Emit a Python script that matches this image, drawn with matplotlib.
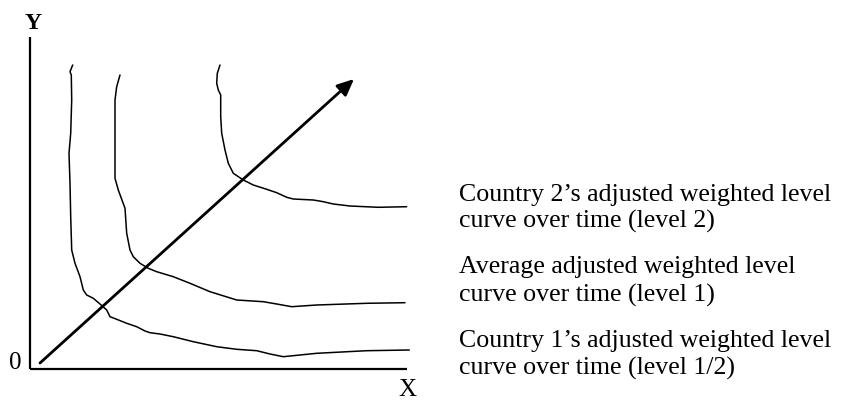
import matplotlib
matplotlib.use("Agg")
import matplotlib.pyplot as plt
import numpy as np

# Hand-traced level curves (diagram coordinates, y downward)
curve_half_x = [72.7, 70.0, 71.3, 71.7, 70.7, 69.0, 70.0, 70.7, 71.7, 75.0, 80.0, 83.3, 86.7, 93.3, 100.0, 106.7, 110.0, 116.7, 126.7, 136.7, 145.0, 150.0, 160.0, 173.3, 193.3, 216.7, 236.7, 256.7, 270.0, 283.3, 316.7, 366.7, 409.3]
curve_half_y = [65.0, 71.7, 75.0, 100.0, 133.3, 153.3, 183.3, 216.7, 250.0, 263.3, 276.7, 290.0, 295.0, 298.3, 304.0, 310.0, 316.7, 319.3, 323.3, 326.7, 331.0, 332.7, 334.0, 336.7, 341.7, 346.7, 349.3, 350.7, 354.0, 356.7, 353.3, 350.7, 350.0]

curve_one_x = [120.0, 116.7, 115.0, 115.0, 115.0, 118.3, 125.0, 126.7, 130.0, 133.3, 140.0, 148.3, 156.7, 173.3, 190.0, 210.0, 236.7, 263.3, 276.7, 291.7, 316.7, 366.7, 405.0]
curve_one_y = [75.0, 86.7, 100.0, 133.3, 178.3, 190.0, 208.3, 233.3, 250.0, 256.7, 263.3, 268.3, 271.7, 276.7, 283.3, 291.7, 300.0, 301.7, 304.0, 306.7, 305.0, 303.3, 302.7]

curve_two_x = [220.0, 217.3, 216.7, 218.3, 220.7, 220.7, 221.7, 225.0, 228.3, 233.3, 243.3, 253.3, 266.7, 276.7, 286.7, 293.3, 313.3, 323.3, 333.3, 350.0, 378.3, 406.7]
curve_two_y = [65.0, 73.3, 83.3, 90.0, 95.0, 116.7, 133.3, 150.0, 163.3, 173.3, 180.0, 185.0, 189.3, 192.7, 197.3, 199.0, 200.0, 201.7, 204.0, 206.0, 207.3, 206.7]

arrow_start = (40.0, 363.0)
arrow_end = (354.0, 79.0)

label_lines = [
    "Country 2\u2019s adjusted weighted level",
    "curve over time (level 2)",
    "Average adjusted weighted level",
    "curve over time (level 1)",
    "Country 1\u2019s adjusted weighted level",
    "curve over time (level 1/2)",
]
label_baselines = [201, 228, 273, 302, 347, 375]

fig = plt.figure(figsize=(8.44, 4.0), dpi=100)
ax = fig.add_axes([0, 0, 1, 1])
ax.set_xlim(0, 844)
ax.set_ylim(400, 0)
ax.axis("off")

serif = ["Liberation Serif", "DejaVu Serif"]

# axes
ax.plot([29.5, 29.5], [37, 369], color="black", lw=1.6, solid_capstyle="butt")
ax.plot([29.5, 407], [369, 369], color="black", lw=1.6, solid_capstyle="butt")
ax.text(33, 29, "Y", fontsize=17, fontweight="bold", family=serif, ha="center", va="baseline")
ax.text(15, 369, "0", fontsize=18, family=serif, ha="center", va="baseline")
ax.text(407, 395.5, "X", fontsize=18, family=serif, ha="center", va="baseline")

for cx, cy in [(curve_half_x, curve_half_y), (curve_one_x, curve_one_y), (curve_two_x, curve_two_y)]:
    ax.plot(cx, cy, color="black", lw=1.1, solid_joinstyle="round", solid_capstyle="round")

ax.annotate("", xy=arrow_end, xytext=arrow_start,
            arrowprops=dict(arrowstyle="-|>,head_length=1.0,head_width=0.45", color="black", lw=2.0, shrinkA=0, shrinkB=0))

for lab, y in zip(label_lines, label_baselines):
    ax.text(459, y, lab, fontsize=18.6, family=serif, ha="left", va="baseline")

fig.savefig("out.png", dpi=100)
